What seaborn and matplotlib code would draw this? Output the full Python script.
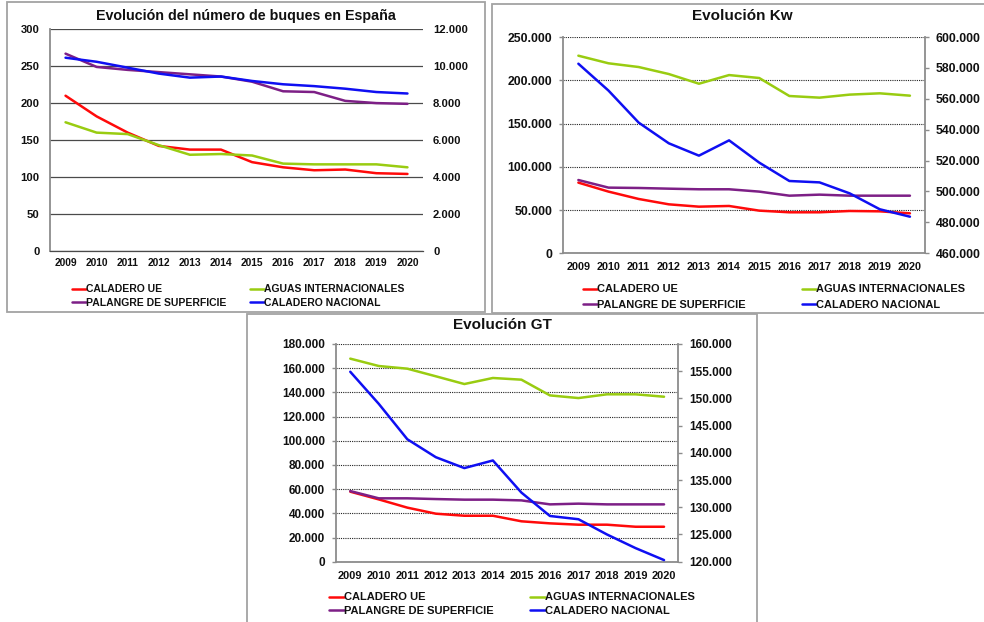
import numpy as np
import pandas as pd
import matplotlib
matplotlib.use("Agg")
import matplotlib.pyplot as plt
import seaborn as sns
from matplotlib.ticker import FuncFormatter
from matplotlib.patches import Rectangle
from matplotlib.font_manager import FontProperties

# ---------------------------------------------------------------- data
years = [2009, 2010, 2011, 2012, 2013, 2014, 2015, 2016, 2017, 2018, 2019, 2020]

series_names = ["CALADERO UE", "AGUAS INTERNACIONALES",
                "PALANGRE DE SUPERFICIE", "CALADERO NACIONAL"]

# Number of vessels (Caladero Nacional on the right axis)
buques_ue = [210, 182, 160, 142, 137, 137, 120, 113, 109, 110, 105, 104]
buques_aguas_int = [174, 160, 158, 143, 130, 131, 129, 118, 117, 117, 117, 113]
buques_palangre = [267, 249, 245, 242, 239, 236, 229, 216, 215, 203, 200, 199]
buques_nacional = [10460, 10240, 9920, 9600, 9380, 9440, 9200, 9020, 8920, 8780, 8600, 8520]

# Engine power in kW
kw_ue = [81700, 71300, 62800, 56600, 53900, 54700, 49300, 47400, 47400, 48900, 48500, 46200]
kw_aguas_int = [228400, 219600, 215300, 207200, 196000, 206000, 202600, 181800, 179900, 183400, 184900, 182200]
kw_palangre = [84700, 75900, 75500, 74700, 74000, 74000, 71300, 66600, 67800, 66600, 66600, 66600]
kw_nacional = [582700, 565300, 544600, 531200, 523200, 533100, 518700, 506800, 505900, 498800, 488500, 483700]

# Gross tonnage
gt_ue = [57900, 51500, 44700, 39700, 38000, 38000, 33400, 31700, 30600, 30600, 28900, 28900]
gt_aguas_int = [167900, 161800, 159600, 153300, 146900, 151900, 150500, 137500, 135300, 138400, 138400, 136400]
gt_palangre = [58400, 52400, 52400, 51800, 51300, 51300, 50700, 47400, 48000, 47400, 47400, 47400]
gt_nacional = [154900, 149000, 142500, 139200, 137200, 138600, 132700, 128400, 127800, 125000, 122500, 120300]

titles = ["Evolución del número de buques en España", "Evolución Kw", "Evolución GT"]

colors = {
    "CALADERO UE": "#FF0a0a",
    "AGUAS INTERNACIONALES": "#99CC11",
    "PALANGRE DE SUPERFICIE": "#7D1F86",
    "CALADERO NACIONAL": "#0F0FF2",
}

# ---------------------------------------------------------------- style
sns.set_style("white")
plt.rcParams["font.family"] = ["Liberation Sans", "DejaVu Sans"]
plt.rcParams["font.weight"] = "bold"
plt.rcParams["axes.labelweight"] = "bold"

W, H = 984, 622
fig = plt.figure(figsize=(W / 100, H / 100), dpi=100)
fig.patch.set_facecolor("white")


def fx(x):
    return x / W


def fy(y):
    return 1 - y / H


def rect(x0, y0, x1, y1):
    return [fx(x0), fy(y1), (x1 - x0) / W, (y1 - y0) / H]


def thousands(v, pos=None):
    return f"{int(round(v)):,}".replace(",", ".")


SPINE = "#8c8c8c"


def draw_panel(frame, box, df, ylim_l, step_l, ylim_r, step_r, dotted, tick_len,
               fs_y, fs_x, pads, title, title_xy, fs_title,
               leg_xy, fs_leg, hl, cs, ls, left_fmt):
    # outer frame of the panel
    fig.add_artist(Rectangle((fx(frame[0]), fy(frame[3])),
                             (frame[2] - frame[0]) / W, (frame[3] - frame[1]) / H,
                             transform=fig.transFigure, fill=False,
                             edgecolor="#a3a3a3", lw=1.3, zorder=0))

    ax = fig.add_axes(rect(*box))
    ax.set_facecolor("none")
    handles = {}
    for name in series_names[:3]:
        sns.lineplot(data=df, x="year", y=name, ax=ax, color=colors[name],
                     linewidth=1.8, legend=False)
        handles[name] = ax.lines[-1]
    ax2 = ax.twinx()
    name = series_names[3]
    sns.lineplot(data=df, x="year", y=name, ax=ax2, color=colors[name],
                 linewidth=1.8, legend=False)
    handles[name] = ax2.lines[-1]

    ax.set_xlim(years[0] - 0.5, years[-1] + 0.5)
    ax.set_ylim(*ylim_l)
    ax2.set_ylim(*ylim_r)
    ax.set_yticks(np.arange(ylim_l[0], ylim_l[1] + step_l / 2, step_l))
    ax2.set_yticks(np.arange(ylim_r[0], ylim_r[1] + step_r / 2, step_r))
    ax.set_xticks(years)
    ax.set_xticklabels([str(y) for y in years])
    ax.yaxis.set_major_formatter(FuncFormatter(left_fmt))
    ax2.yaxis.set_major_formatter(FuncFormatter(thousands))
    ax.set_xlabel("")
    ax.set_ylabel("")
    ax2.set_ylabel("")

    ax.set_axisbelow(True)
    if dotted:
        ax.grid(axis="y", color="#222222", linestyle=(0, (1, 1)), linewidth=0.8)
        ax.grid(axis="x", visible=False)
        ax.set_xticks(np.arange(years[0] - 0.5, years[-1] + 1, 1), minor=True)
        ax.tick_params(axis="x", which="minor", length=tick_len + 1, width=1,
                       color=SPINE, direction="out")
        ax.tick_params(axis="x", which="major", length=0)
        ax.tick_params(axis="y", length=tick_len, width=1, color=SPINE,
                       direction="out")
        ax2.tick_params(axis="y", length=tick_len, width=1, color=SPINE,
                        direction="out")
        for s in ("left", "bottom"):
            ax.spines[s].set_color(SPINE)
            ax.spines[s].set_linewidth(1.3)
        ax2.spines["right"].set_color(SPINE)
        ax2.spines["right"].set_linewidth(1.3)
        ax2.spines["right"].set_visible(True)
    else:
        ax.grid(axis="y", color="#4a4a4a", linestyle="-", linewidth=0.9)
        ax.grid(axis="x", visible=False)
        ax.tick_params(axis="both", length=0)
        ax2.tick_params(axis="y", length=0)
        ax.spines["left"].set_color(SPINE)
        ax.spines["left"].set_linewidth(1.3)
        ax.spines["bottom"].set_color("#4a4a4a")
        ax.spines["bottom"].set_linewidth(0.9)
        ax2.spines["right"].set_visible(False)
    ax.spines["top"].set_visible(False)
    ax.spines["right"].set_visible(False)
    for s in ("top", "left", "bottom"):
        ax2.spines[s].set_visible(False)

    ax.tick_params(axis="y", labelsize=fs_y, pad=pads[0], labelcolor="#111111")
    ax2.tick_params(axis="y", labelsize=fs_y, pad=pads[1], labelcolor="#111111")
    ax.tick_params(axis="x", which="major", labelsize=fs_x, pad=pads[2],
                   labelcolor="#111111")
    for lab in ax.get_xticklabels() + ax.get_yticklabels() + ax2.get_yticklabels():
        lab.set_fontweight("bold")

    fig.text(fx(title_xy[0]), fy(title_xy[1]), title, ha="center", va="center",
             fontsize=fs_title, fontweight="bold", color="#111111")

    order = ["CALADERO UE", "PALANGRE DE SUPERFICIE",
             "AGUAS INTERNACIONALES", "CALADERO NACIONAL"]
    leg = ax.legend([handles[n] for n in order], order, ncol=2,
                    loc="upper left", bbox_to_anchor=(fx(leg_xy[0]), fy(leg_xy[1])),
                    bbox_transform=fig.transFigure, frameon=False,
                    borderpad=0, borderaxespad=0, handlelength=hl,
                    handletextpad=0.02, columnspacing=cs, labelspacing=ls,
                    prop=FontProperties(family="Liberation Sans", weight="bold",
                                        size=fs_leg))
    for t in leg.get_texts():
        t.set_color("#111111")
    return ax, ax2


def frame_of(ue, aguas, palangre, nacional):
    return pd.DataFrame({
        "year": years,
        "CALADERO UE": ue,
        "AGUAS INTERNACIONALES": aguas,
        "PALANGRE DE SUPERFICIE": palangre,
        "CALADERO NACIONAL": nacional,
    })


# Vessels
draw_panel(frame=(7, 2, 485, 312), box=(50, 29.3, 423, 250.7),
           df=frame_of(buques_ue, buques_aguas_int, buques_palangre, buques_nacional),
           ylim_l=(0, 300), step_l=50, ylim_r=(0, 12000), step_r=2000,
           dotted=False, tick_len=0, fs_y=8.1, fs_x=7.4, pads=(7.6, 7.2, 5.6),
           title=titles[0], title_xy=(246, 16), fs_title=10.3,
           leg_xy=(72, 284.5), fs_leg=7.47, hl=1.35, cs=2.26, ls=0.3,
           left_fmt=lambda v, p: f"{int(round(v))}")

# Power
draw_panel(frame=(492, 4, 992, 313), box=(563.3, 37, 925, 253.3),
           df=frame_of(kw_ue, kw_aguas_int, kw_palangre, kw_nacional),
           ylim_l=(0, 250000), step_l=50000, ylim_r=(460000, 600000), step_r=20000,
           dotted=True, tick_len=3.2, fs_y=8.8, fs_x=7.8, pads=(4.6, 4.4, 6.0),
           title=titles[1], title_xy=(742, 16), fs_title=11,
           leg_xy=(583, 284.5), fs_leg=7.95, hl=1.27, cs=5.1, ls=0.48,
           left_fmt=thousands)

# Gross tonnage
draw_panel(frame=(247, 314, 757, 630), box=(336, 344, 678.3, 561.7),
           df=frame_of(gt_ue, gt_aguas_int, gt_palangre, gt_nacional),
           ylim_l=(0, 180000), step_l=20000, ylim_r=(120000, 160000), step_r=5000,
           dotted=True, tick_len=3.2, fs_y=8.5, fs_x=7.9, pads=(4.6, 5.0, 6.5),
           title=titles[2], title_xy=(502.7, 325), fs_title=11,
           leg_xy=(329, 592.5), fs_leg=8.05, hl=1.34, cs=3.23, ls=0.27,
           left_fmt=thousands)

fig.savefig("out.png", dpi=100, facecolor="white")
